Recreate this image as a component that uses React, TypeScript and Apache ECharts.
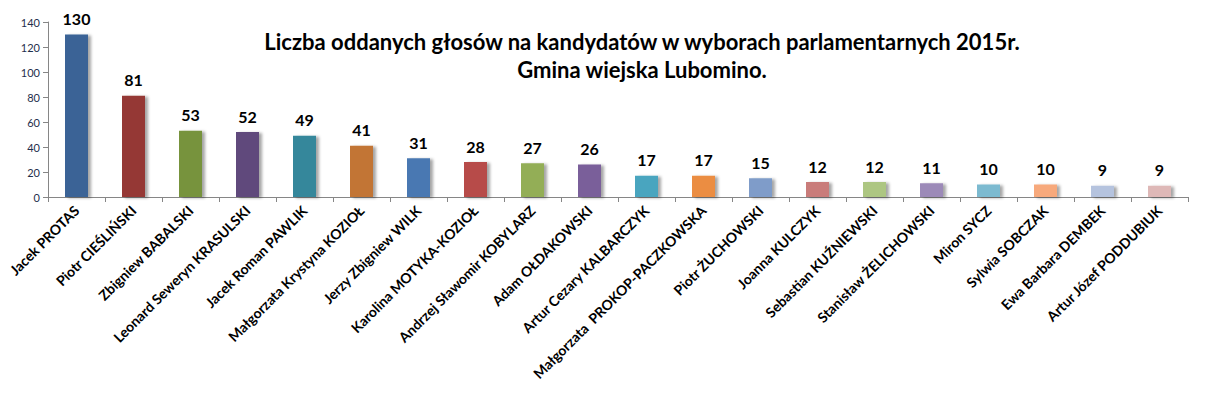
import React, { useEffect, useRef } from "react";
import * as echarts from "echarts";

const categories = [
  "Jacek PROTAS",
  "Piotr CIEŚLIŃSKI",
  "Zbigniew BABALSKI",
  "Leonard Seweryn KRASULSKI",
  "Jacek Roman PAWLIK",
  "Małgorzata Krystyna KOZIOŁ",
  "Jerzy Zbigniew WILK",
  "Karolina MOTYKA-KOZIOŁ",
  "Andrzej Sławomir KOBYLARZ",
  "Adam OŁDAKOWSKI",
  "Artur Cezary KALBARCZYK",
  "Małgorzata  PROKOP-PACZKOWSKA",
  "Piotr ŻUCHOWSKI",
  "Joanna KULCZYK",
  "Sebastian KUŹNIEWSKI",
  "Stanisław ŻELICHOWSKI",
  "Miron SYCZ",
  "Sylwia SOBCZAK",
  "Ewa Barbara DEMBEK",
  "Artur Józef PODDUBIUK",
];

const votes = [130, 81, 53, 52, 49, 41, 31, 28, 27, 26, 17, 17, 15, 12, 12, 11, 10, 10, 9, 9];

const barColors = [
  "#3B6496", "#953836", "#77933C", "#604A7B", "#36879B", "#C27535",
  "#4A78B2", "#B74B48", "#93AE56", "#7A5F9A", "#48A5BF", "#EB8D43",
  "#7F9CC9", "#C97B7A", "#ADC682", "#9C8AB8", "#7CBAD0", "#F7A97B",
  "#B5C3DE", "#DEB8B7",
];

const titleLines = [
  "Liczba oddanych głosów na kandydatów w wyborach parlamentarnych 2015r.",
  "Gmina wiejska Lubomino.",
];

const FONT = "Lato, 'Open Sans', sans-serif";

export default function App() {
  const ref = useRef<HTMLDivElement>(null);
  useEffect(() => {
    if (!ref.current) return;
    const chart = echarts.init(ref.current, undefined, { renderer: "svg" });
    chart.setOption({
      animation: false,
      backgroundColor: "#ffffff",
      title: {
        text: titleLines.join("\n"),
        left: 637,
        top: 22,
        textAlign: "center",
        textStyle: {
          fontFamily: FONT,
          fontWeight: "bold",
          fontSize: 22,
          lineHeight: 28,
          color: "#000000",
        },
      },
      grid: { left: 48, right: 19, top: 22, bottom: 202, containLabel: false },
      xAxis: {
        type: "category",
        data: categories,
        axisLine: { lineStyle: { color: "#868686", width: 1 } },
        axisTick: { show: true, alignWithLabel: false, length: 5, lineStyle: { color: "#868686" } },
        axisLabel: {
          interval: 0,
          rotate: 45,
          margin: 11,
          fontFamily: FONT,
          fontWeight: "bold",
          fontSize: 14,
          color: "#000000",
        },
      },
      yAxis: {
        type: "value",
        min: 0,
        max: 140,
        interval: 20,
        splitLine: { show: false },
        axisLine: { show: true, lineStyle: { color: "#868686", width: 1 } },
        axisTick: { show: true, length: 5, lineStyle: { color: "#868686" } },
        axisLabel: {
          fontFamily: FONT,
          fontSize: 11,
          color: "#1F2F4D",
          margin: 8,
        },
      },
      series: [
        {
          type: "bar",
          data: votes.map((v, i) => ({ value: v, itemStyle: { color: barColors[i] } })),
          barWidth: 23,
          itemStyle: {
            shadowColor: "rgba(0,0,0,0.35)",
            shadowBlur: 3,
            shadowOffsetX: 3,
            shadowOffsetY: 1,
          },
          label: {
            show: true,
            position: "top",
            distance: 8,
            fontFamily: FONT,
            fontWeight: "bold",
            fontSize: 16,
            color: "#000000",
          },
        },
      ],
    });
    return () => chart.dispose();
  }, []);
  return <div ref={ref} style={{ width: 1207, height: 399, margin: -8 }} />;
}
